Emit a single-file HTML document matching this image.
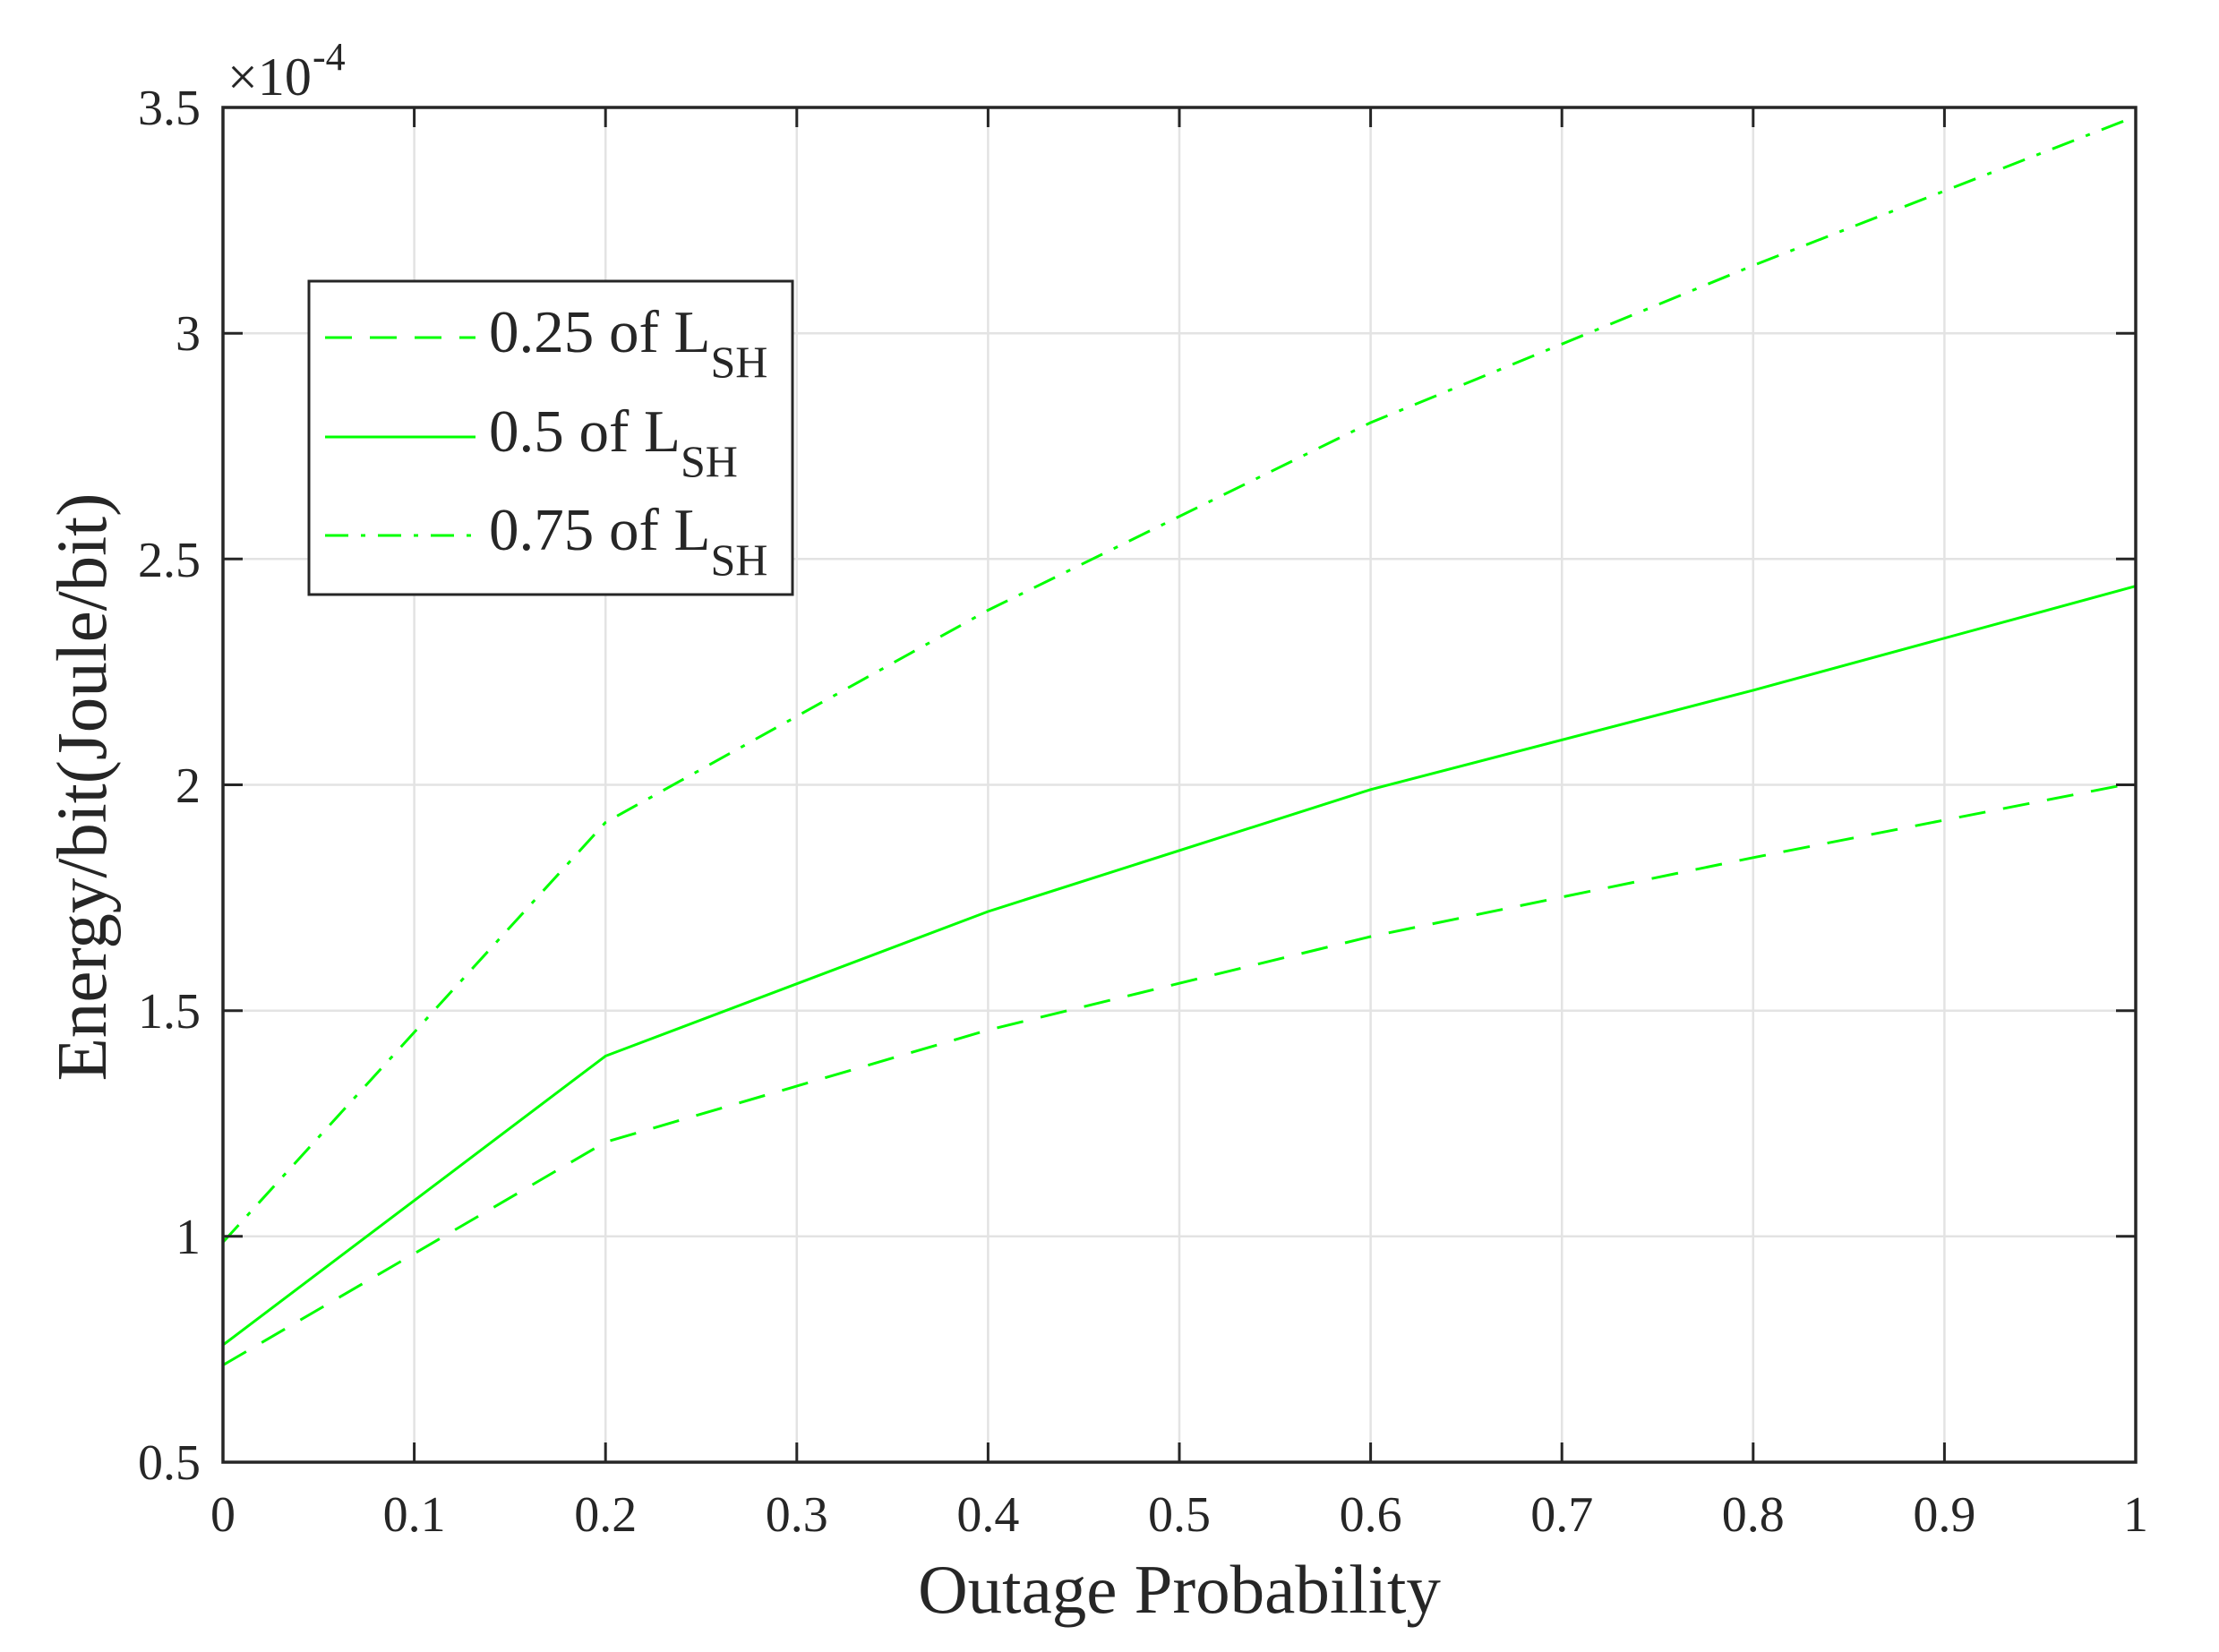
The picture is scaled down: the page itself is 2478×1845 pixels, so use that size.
<!DOCTYPE html>
<html><head><meta charset="utf-8"><style>
html,body{margin:0;padding:0;background:#fff;}
svg{display:block;}
text{font-family:"Liberation Serif",serif;fill:#262626;}
</style></head><body>
<svg width="2478" height="1845" viewBox="0 0 2478 1845" xmlns="http://www.w3.org/2000/svg">
<rect width="2478" height="1845" fill="#fff"/>
<g stroke="#e3e3e3" stroke-width="2.5">
<line x1="462.6" y1="120" x2="462.6" y2="1633"/>
<line x1="676.2" y1="120" x2="676.2" y2="1633"/>
<line x1="889.8" y1="120" x2="889.8" y2="1633"/>
<line x1="1103.4" y1="120" x2="1103.4" y2="1633"/>
<line x1="1317" y1="120" x2="1317" y2="1633"/>
<line x1="1530.6" y1="120" x2="1530.6" y2="1633"/>
<line x1="1744.2" y1="120" x2="1744.2" y2="1633"/>
<line x1="1957.8" y1="120" x2="1957.8" y2="1633"/>
<line x1="2171.4" y1="120" x2="2171.4" y2="1633"/>
<line x1="249" y1="1380.8" x2="2385" y2="1380.8"/>
<line x1="249" y1="1128.7" x2="2385" y2="1128.7"/>
<line x1="249" y1="876.5" x2="2385" y2="876.5"/>
<line x1="249" y1="624.3" x2="2385" y2="624.3"/>
<line x1="249" y1="372.2" x2="2385" y2="372.2"/>
</g>
<g fill="none" stroke="#00ff00" stroke-width="3">
<polyline stroke-dasharray="30,20" points="249,1524.6 676.2,1275.5 1103.4,1150.4 1530.6,1046 1957.8,957.8 2385,874"/>
<polyline points="249,1502.1 676.2,1179.4 1103.4,1018 1530.6,881.8 1957.8,770.9 2385,654.6"/>
<polyline stroke-dasharray="26,14,5,14" points="249,1387.3 676.2,918.5 1103.4,681.5 1530.6,472 1957.8,296.5 2385,130"/>
</g>
<rect x="249" y="120" width="2136" height="1513" fill="none" stroke="#262626" stroke-width="3.5"/>
<g stroke="#262626" stroke-width="3">
<path d="M462.6,1633v-22M676.2,1633v-22M889.8,1633v-22M1103.4,1633v-22M1317,1633v-22M1530.6,1633v-22M1744.2,1633v-22M1957.8,1633v-22M2171.4,1633v-22"/>
<path d="M462.6,120v22M676.2,120v22M889.8,120v22M1103.4,120v22M1317,120v22M1530.6,120v22M1744.2,120v22M1957.8,120v22M2171.4,120v22"/>
<path d="M249,1380.8h22M249,1128.7h22M249,876.5h22M249,624.3h22M249,372.2h22"/>
<path d="M2385,1380.8h-22M2385,1128.7h-22M2385,876.5h-22M2385,624.3h-22M2385,372.2h-22"/>
</g>
<g font-size="56" text-anchor="middle">
<text x="249" y="1710">0</text>
<text x="462.6" y="1710">0.1</text>
<text x="676.2" y="1710">0.2</text>
<text x="889.8" y="1710">0.3</text>
<text x="1103.4" y="1710">0.4</text>
<text x="1317" y="1710">0.5</text>
<text x="1530.6" y="1710">0.6</text>
<text x="1744.2" y="1710">0.7</text>
<text x="1957.8" y="1710">0.8</text>
<text x="2171.4" y="1710">0.9</text>
<text x="2385" y="1710">1</text>
</g>
<g font-size="56" text-anchor="end">
<text x="224" y="1652">0.5</text>
<text x="224" y="1400">1</text>
<text x="224" y="1148">1.5</text>
<text x="224" y="896">2</text>
<text x="224" y="644">2.5</text>
<text x="224" y="391">3</text>
<text x="224" y="139">3.5</text>
</g>
<text x="254" y="106" font-size="60">×10</text>
<text x="349" y="78" font-size="44">-4</text>
<text x="1317" y="1801" font-size="77" text-anchor="middle">Outage Probability</text>
<text transform="translate(118,879) rotate(-90)" font-size="79" text-anchor="middle">Energy/bit(Joule/bit)</text>
<rect x="345" y="314" width="540" height="350" fill="#fff" stroke="#262626" stroke-width="3"/>
<g fill="none" stroke="#00ff00" stroke-width="3">
<line x1="363" y1="377" x2="531" y2="377" stroke-dasharray="30,20"/>
<line x1="363" y1="488" x2="531" y2="488"/>
<line x1="363" y1="598" x2="531" y2="598" stroke-dasharray="26,14,5,14"/>
</g>
<g font-size="67">
<text x="546" y="393">0.25 of L<tspan font-size="50" dy="28">SH</tspan></text>
<text x="546" y="504">0.5 of L<tspan font-size="50" dy="28">SH</tspan></text>
<text x="546" y="614">0.75 of L<tspan font-size="50" dy="28">SH</tspan></text>
</g>
</svg>
</body></html>
